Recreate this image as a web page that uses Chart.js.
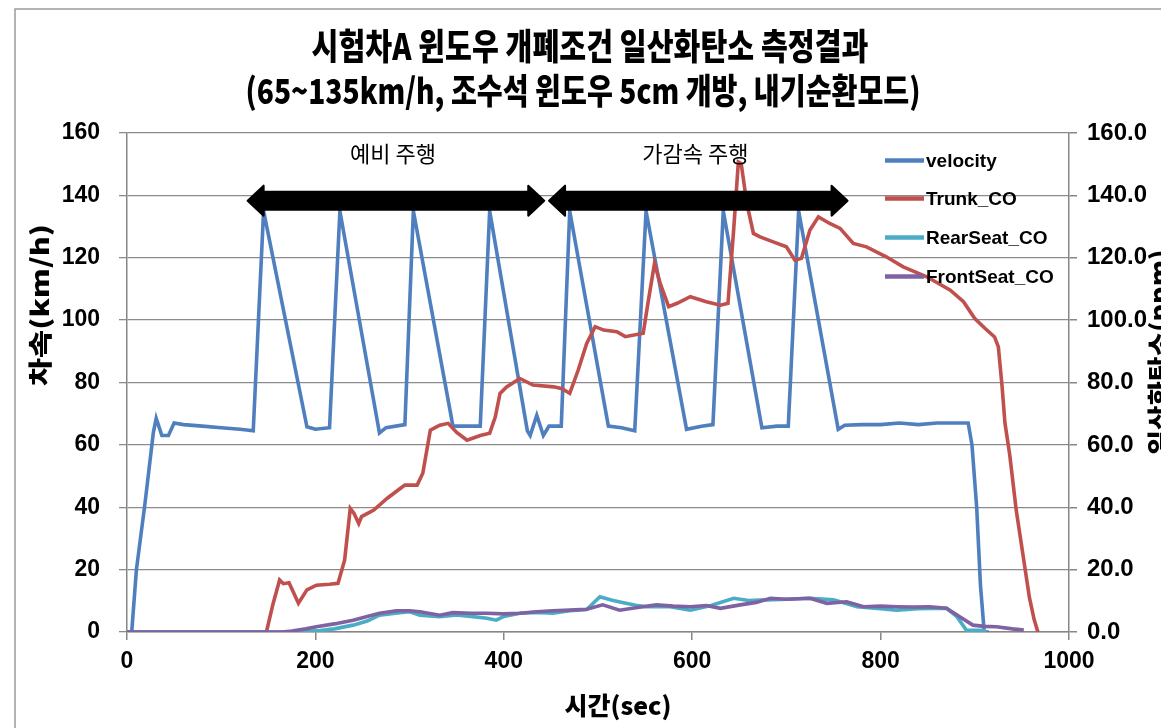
<!DOCTYPE html>
<html>
<head>
<meta charset="utf-8">
<script src="https://cdn.jsdelivr.net/npm/chart.js@4.4.0/dist/chart.umd.min.js"></script>
<style>
  html, body { margin: 0; padding: 0; background: #fff; overflow: hidden; }
  #wrap { width: 1161px; height: 728px; position: relative; }
</style>
</head>
<body>
<div id="wrap"><canvas id="c" width="1161" height="728"></canvas></div>
<script>
// ---- measured data: time (sec) vs. value ----
const velocityTime = [0, 5, 10, 19, 28, 31, 37, 44, 50, 60, 80, 100, 120, 134, 145, 191, 200, 215, 226, 268, 275, 295, 304, 346, 360, 375, 385, 425, 428, 435, 442, 448, 461, 470, 511, 525, 539, 551, 594, 610, 622, 633, 674, 690, 702, 713, 755, 762, 780, 800, 820, 840, 860, 880, 893, 897, 902, 906, 910, 915];
const velocityKmh  = [0, 0, 20, 41, 64, 68.5, 63, 63, 67, 66.5, 66, 65.5, 65, 64.5, 135, 65.8, 65, 65.5, 135, 63.8, 65.5, 66.5, 135, 66, 66, 66, 135, 64.5, 63, 69.5, 63, 66, 66, 135, 66, 65.5, 64.5, 135, 65, 66, 66.5, 135, 65.5, 66, 66, 135, 65, 66.3, 66.5, 66.5, 67, 66.5, 67, 67, 67, 60, 40, 15, 0, 0];

const trunkTime = [0, 148, 155, 162, 166, 172, 182, 191, 201, 215, 224, 231, 237, 241, 246, 249, 262, 276, 290, 295, 308, 314, 322, 332, 341, 350, 361, 375, 385, 391, 396, 403, 417, 431, 453, 462, 470, 479, 488, 497, 506, 520, 529, 548, 553, 560, 566, 575, 584, 598, 615, 630, 638, 644, 649, 652, 658, 665, 672, 686, 700, 709, 716, 725, 734, 746, 757, 771, 785, 806, 824, 849, 874, 888, 900, 911, 921, 925, 929, 932, 937, 944, 951, 958, 963, 967];
const trunkPpm  = [0, 0, 9, 16.7, 15.5, 15.8, 9.2, 13.5, 15, 15.3, 15.6, 23, 39.6, 38, 34.8, 37, 39.1, 42.8, 46, 47.1, 47.1, 50.9, 64.7, 66.3, 66.9, 64, 61.5, 63, 63.7, 69, 76.5, 78.6, 81.3, 79.2, 78.6, 78, 76.5, 84, 92.5, 97.9, 96.8, 96.3, 94.7, 95.8, 105.4, 118.2, 111.8, 104.3, 105.4, 107.5, 105.9, 104.8, 105.4, 128.9, 150.7, 150.2, 137.4, 127.8, 126.7, 125.1, 123.5, 119.2, 119.8, 128.9, 133.1, 131, 129.4, 124.6, 123.5, 120.3, 117.1, 113.9, 109.6, 105.9, 100.5, 97.3, 94.6, 91.4, 78.6, 67, 57, 39, 25, 11, 4, 0];

const rearTime = [0, 180, 205, 220, 240, 255, 268, 285, 300, 311, 332, 350, 365, 382, 392, 400, 417, 435, 452, 470, 488, 502, 515, 527, 540, 552, 575, 598, 620, 644, 660, 679, 700, 725, 750, 775, 800, 817, 840, 870, 881, 891, 912];
const rearPpm  = [0, 0, 0.5, 1, 2.2, 3.5, 5.4, 6, 6.5, 5.4, 4.9, 5.5, 5, 4.4, 3.8, 5, 6, 6.3, 6, 6.8, 7.2, 11.3, 10.2, 9.4, 8.6, 8.1, 8.2, 7, 8.5, 10.8, 10.1, 10.3, 10.5, 10.8, 10.3, 8.1, 7.5, 7, 7.5, 7.6, 4.9, 0.6, 0.5];

const frontTime = [0, 165, 175, 190, 201, 220, 240, 255, 268, 286, 300, 311, 332, 346, 365, 382, 400, 417, 435, 452, 470, 488, 505, 523, 540, 562, 580, 598, 615, 630, 651, 668, 683, 700, 725, 743, 764, 782, 800, 817, 835, 852, 870, 884, 898, 910, 923, 940, 952];
const frontPpm  = [0, 0, 0.3, 1, 1.7, 2.6, 3.8, 5, 6, 6.8, 6.8, 6.5, 5.4, 6.2, 6, 6, 5.8, 6, 6.5, 6.8, 7, 7.3, 8.7, 7, 7.8, 8.7, 8.3, 8.1, 8.5, 7.6, 8.7, 9.5, 10.8, 10.5, 10.8, 9.2, 9.7, 8.1, 8.3, 8.1, 8, 8.1, 7.6, 4.9, 2.2, 1.8, 1.7, 1, 0.6];

const seriesNames = ['velocity', 'Trunk_CO', 'RearSeat_CO', 'FrontSeat_CO'];

// driving phases (sec) and their labels
const phaseStart  = [127, 447];
const phaseEnd    = [444, 766];
const phaseLabels = ['예비 주행', '가감속 주행'];

// axis ticks
const xTicks = [0, 200, 400, 600, 800, 1000];
const yTicks = [0, 20, 40, 60, 80, 100, 120, 140, 160];

const chartTitle = ['시험차A 윈도우 개폐조건 일산화탄소 측정결과', '(65~135km/h, 조수석 윈도우 5cm 개방, 내기순환모드)'];
const xTitle = '시간(sec)';
const yTitle = '차속(km/h)';
const y2Title = '일산화탄소(ppm)';

// ---- helpers ----
const pts = (ts, vs) => ts.map((t, i) => ({ x: t, y: vs[i] }));
const COLORS = ['#4F7FBE', '#C0504D', '#4BACC6', '#7E62A1'];
const KR = '"Noto Sans CJK KR", "Noto Sans", sans-serif';
const LAT = '"Liberation Sans", Arial, sans-serif';

function fitText(ctx, text, cx, cy, width, font, rot) {
  ctx.save();
  ctx.font = font;
  ctx.textAlign = 'center';
  ctx.textBaseline = 'middle';
  const w = ctx.measureText(text).width;
  ctx.translate(cx, cy);
  if (rot) ctx.rotate(rot);
  ctx.scale(width / w, 1);
  ctx.fillStyle = '#000';
  ctx.fillText(text, 0, 0);
  ctx.restore();
}

const pagePlugin = {
  id: 'page',
  beforeDraw(chart) {
    const ctx = chart.ctx;
    ctx.save();
    ctx.fillStyle = '#fff';
    ctx.fillRect(0, 0, chart.width, chart.height);
    ctx.strokeStyle = '#9a9a9a';
    ctx.lineWidth = 1.5;
    ctx.strokeRect(15, 9, 1400, 900);
    ctx.restore();
  },
  afterDraw(chart) {
    const ctx = chart.ctx;
    fitText(ctx, chartTitle[0], 590, 46, 557, '900 36px ' + KR);
    fitText(ctx, chartTitle[1], 583, 91, 675, '900 35px ' + KR);
    fitText(ctx, xTitle, 618, 705, 107, '900 25px ' + KR);
    fitText(ctx, yTitle, 40, 305, 162, '900 24px ' + KR, -Math.PI / 2);
    fitText(ctx, y2Title, 1159, 352, 205, '900 24px ' + KR, -Math.PI / 2);
  }
};

const phasePlugin = {
  id: 'phases',
  afterDatasetsDraw(chart) {
    const ctx = chart.ctx;
    const xs = chart.scales.x, ys = chart.scales.y;
    const yArrow = ys.getPixelForValue(138.3);
    const yLabel = ys.getPixelForValue(153.5);
    ctx.save();
    ctx.fillStyle = '#000';
    ctx.strokeStyle = '#000';
    ctx.lineJoin = 'round';
    ctx.lineWidth = 2;
    for (let i = 0; i < phaseStart.length; i++) {
      const x1 = xs.getPixelForValue(phaseStart[i]);
      const x2 = xs.getPixelForValue(phaseEnd[i]);
      const sh = 9, hh = 15, hl = 17;
      ctx.beginPath();
      ctx.moveTo(x1 + 1, yArrow);
      ctx.lineTo(x1 + hl, yArrow - hh);
      ctx.lineTo(x1 + hl, yArrow - sh);
      ctx.lineTo(x2 - hl, yArrow - sh);
      ctx.lineTo(x2 - hl, yArrow - hh);
      ctx.lineTo(x2 - 1, yArrow);
      ctx.lineTo(x2 - hl, yArrow + hh);
      ctx.lineTo(x2 - hl, yArrow + sh);
      ctx.lineTo(x1 + hl, yArrow + sh);
      ctx.lineTo(x1 + hl, yArrow + hh);
      ctx.closePath();
      ctx.fill();
      ctx.stroke();
      ctx.font = '22px ' + KR;
      ctx.textAlign = 'center';
      ctx.textBaseline = 'middle';
      ctx.fillText(phaseLabels[i], (x1 + x2) / 2 - 3, yLabel);
    }
    ctx.restore();
  }
};

const legendPlugin = {
  id: 'innerLegend',
  afterDraw(chart) {
    const ctx = chart.ctx;
    ctx.save();
    ctx.font = 'bold 19px ' + LAT;
    ctx.textAlign = 'left';
    ctx.textBaseline = 'middle';
    const rows = [160.5, 198.5, 237.5, 276.5];
    seriesNames.forEach((name, i) => {
      const y = rows[i];
      ctx.strokeStyle = COLORS[i];
      ctx.lineWidth = 4.5;
      ctx.beginPath();
      ctx.moveTo(885, y);
      ctx.lineTo(924, y);
      ctx.stroke();
      ctx.fillStyle = '#000';
      ctx.fillText(name, 926, y + 1);
    });
    ctx.restore();
  }
};

const lineDs = (label, data, color, axis, order) => ({
  label, data, borderColor: color, backgroundColor: color, yAxisID: axis, order,
  borderWidth: 3.6, pointRadius: 0, tension: 0, fill: false
});

new Chart(document.getElementById('c'), {
  type: 'line',
  data: {
    datasets: [
      lineDs(seriesNames[0], pts(velocityTime, velocityKmh), COLORS[0], 'y', 4),
      lineDs(seriesNames[1], pts(trunkTime, trunkPpm), COLORS[1], 'y1', 3),
      lineDs(seriesNames[2], pts(rearTime, rearPpm), COLORS[2], 'y1', 2),
      lineDs(seriesNames[3], pts(frontTime, frontPpm), COLORS[3], 'y1', 1)
    ]
  },
  options: {
    responsive: false,
    animation: false,
    layout: { padding: { left: 15, top: 133, right: 0, bottom: 0 } },
    plugins: { legend: { display: false }, tooltip: { enabled: false }, title: { display: false } },
    scales: {
      x: {
        type: 'linear', min: xTicks[0], max: xTicks[xTicks.length - 1],
        afterBuildTicks: s => { s.ticks = xTicks.map(v => ({ value: v })); },
        afterFit: s => { s.height = 96; },
        border: { color: '#868686', width: 1.5 },
        grid: { drawOnChartArea: false, drawTicks: true, tickLength: 8, color: '#868686', lineWidth: 1.5 },
        ticks: { color: '#000', padding: 10, maxRotation: 0, callback: v => String(v),
                 font: { family: LAT, weight: 'bold', size: 23, lineHeight: 1 } }
      },
      y: {
        position: 'left', min: 0, max: 160,
        afterBuildTicks: s => { s.ticks = yTicks.map(v => ({ value: v })); },
        afterFit: s => { s.width = 112; },
        border: { color: '#868686', width: 1.5 },
        grid: { color: '#8c8c8c', lineWidth: 1.3, tickLength: 8 },
        ticks: { color: '#000', padding: 19, callback: v => String(v), font: { family: LAT, weight: 'bold', size: 23 } }
      },
      y1: {
        position: 'right', min: 0, max: 160,
        afterBuildTicks: s => { s.ticks = yTicks.map(v => ({ value: v })); },
        afterFit: s => { s.width = 92; },
        border: { color: '#868686', width: 1.5 },
        grid: { drawOnChartArea: false, color: '#868686', lineWidth: 1.5, tickLength: 8 },
        ticks: { color: '#000', padding: 10, font: { family: LAT, weight: 'bold', size: 24 }, callback: v => v.toFixed(1) }
      }
    }
  },
  plugins: [pagePlugin, phasePlugin, legendPlugin]
});
</script>
</body>
</html>
